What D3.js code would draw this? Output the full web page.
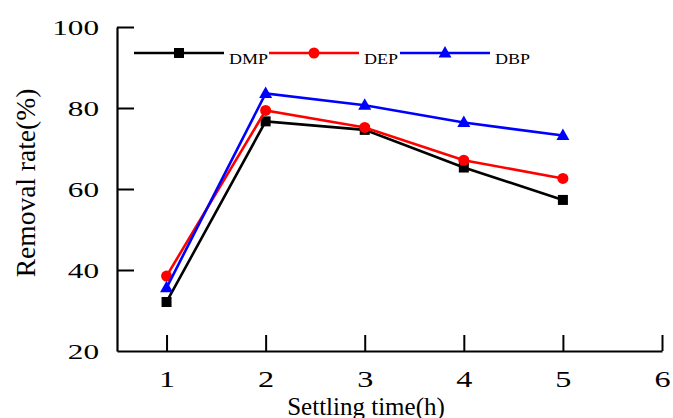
<!DOCTYPE html>
<html>
<head>
<meta charset="utf-8">
<script src="https://cdn.jsdelivr.net/npm/d3@7"></script>
<style>
  body { margin: 0; background: #fff; }
  text { font-family: "Liberation Serif", "Times New Roman", serif; fill: #000; }
</style>
</head>
<body>
<svg id="chart" width="673" height="418"></svg>
<script>
// Settling time (h)
const times = [1, 2, 3, 4, 5];
const dmp = [32.1, 76.7, 74.6, 65.3, 57.3];
const dep = [38.5, 79.4, 75.2, 67.1, 62.6];
const dbp = [35.6, 83.6, 80.7, 76.4, 73.2];
const xTicks = [1, 2, 3, 4, 5, 6];
const yTicks = [20, 40, 60, 80, 100];

const series = [
    { name: 'DMP', values: dmp, color: '#000000', marker: 'square' },
    { name: 'DEP', values: dep, color: '#ff0000', marker: 'circle' },
    { name: 'DBP', values: dbp, color: '#0000ff', marker: 'triangle' }
];

const svg = d3.select('#chart');

const x = d3.scaleLinear().domain([0.5, 6]).range([117, 662]);
const y = d3.scaleLinear().domain([20, 100]).range([351, 27]);

// The source figure has horizontally stretched glyphs
function stretch(sel, factor) {
    sel.each(function () {
        const w = this.getComputedTextLength();
        d3.select(this)
            .attr('textLength', w * factor)
            .attr('lengthAdjust', 'spacingAndGlyphs');
    });
}

// Axes with inward ticks
const xAxis = d3.axisBottom(x).tickValues(xTicks).tickFormat(d3.format('d'))
    .tickSize(-16).tickPadding(20).tickSizeOuter(0);
const yAxis = d3.axisLeft(y).tickValues(yTicks).tickFormat(d3.format('d'))
    .tickSize(-17).tickPadding(18).tickSizeOuter(0);

const gx = svg.append('g').attr('transform', 'translate(0,351)').call(xAxis);
const gy = svg.append('g').attr('transform', 'translate(117,0)').call(yAxis);

[gx, gy].forEach(g => {
    g.attr('font-family', null);
    g.select('.domain').attr('stroke', '#000').attr('stroke-width', 2.2);
    g.selectAll('.tick line').attr('stroke', '#000').attr('stroke-width', 2);
    g.selectAll('.tick text').attr('fill', '#000');
});
gx.selectAll('.tick text').attr('font-size', 23).attr('dy', '0.71em');
gy.selectAll('.tick text').attr('font-size', 22).attr('dy', '0.34em');
stretch(gx.selectAll('.tick text'), 1.4);
stretch(gy.selectAll('.tick text'), 1.42);
// no tick mark at the bottom corner
gy.selectAll('.tick').filter(d => d === 20).select('line').remove();

// Axis titles
svg.append('text')
    .attr('x', 366).attr('y', 415)
    .attr('text-anchor', 'middle')
    .attr('font-size', 25)
    .text('Settling time(h)');

svg.append('text')
    .attr('transform', 'translate(35,183) rotate(-90)')
    .attr('text-anchor', 'middle')
    .attr('font-size', 27.5)
    .text('Removal rate(%)');

const line = d3.line()
    .x((d, i) => x(times[i]))
    .y(d => y(d));

function drawMarker(g, type, color) {
    if (type === 'square') {
        g.append('rect').attr('x', -5).attr('y', -5).attr('width', 10).attr('height', 10).attr('fill', color);
    } else if (type === 'circle') {
        g.append('circle').attr('r', 5.5).attr('fill', color);
    } else {
        g.append('path').attr('d', 'M0,-7L6.5,4.5L-6.5,4.5Z').attr('fill', color);
    }
}

series.forEach(s => {
    svg.append('path')
        .datum(s.values)
        .attr('fill', 'none')
        .attr('stroke', s.color)
        .attr('stroke-width', 2.6)
        .attr('d', line);

    svg.append('g')
        .selectAll('g')
        .data(s.values)
        .join('g')
        .attr('transform', (d, i) => `translate(${x(times[i])},${y(d)})`)
        .each(function () { drawMarker(d3.select(this), s.marker, s.color); });
});

// Legend
const legendX = [134, 269, 400];
series.forEach((s, i) => {
    const lg = svg.append('g').attr('transform', `translate(${legendX[i]},53)`);
    lg.append('line')
        .attr('x1', 0).attr('x2', 90)
        .attr('stroke', s.color).attr('stroke-width', 2.6);
    const m = lg.append('g').attr('transform', 'translate(45,0)');
    drawMarker(m, s.marker, s.color);
    const t = lg.append('text')
        .attr('x', 95).attr('y', 11)
        .attr('font-size', 15)
        .text(s.name);
    stretch(t, 1.2);
});
</script>
</body>
</html>
